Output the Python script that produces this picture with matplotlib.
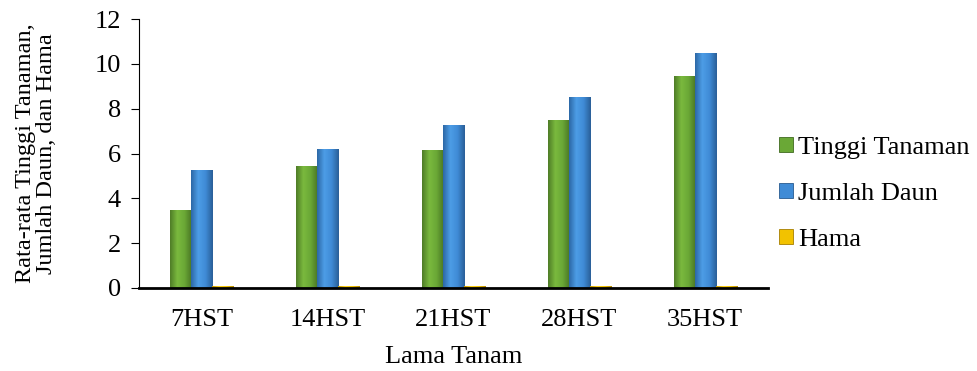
import numpy as np
import matplotlib.pyplot as plt
from matplotlib.colors import LinearSegmentedColormap

plt.rcParams['font.family'] = ['Liberation Serif', 'DejaVu Serif']

categories = ["7HST", "14HST", "21HST", "28HST", "35HST"]
tinggi = [3.5, 5.45, 6.15, 7.5, 9.45]
daun = [5.25, 6.2, 7.25, 8.5, 10.5]
hama = [0.08, 0.08, 0.08, 0.08, 0.08]

fig = plt.figure(figsize=(9.78, 3.71), dpi=100)
ax = fig.add_axes([139 / 978, 1 - 288 / 371, 629 / 978, 269 / 371])

x = np.arange(len(categories))
w = 0.167
series = [
    (tinggi, "Tinggi Tanaman", ["#4f7d27", "#7ab93e", "#6aa836", "#4a7524"], "#3f6a1f"),
    (daun, "Jumlah Daun", ["#2c68a6", "#4d9de6", "#3f8bd6", "#2a5f98"], "#275a90"),
    (hama, "Hama", ["#c99a00", "#ffd21a", "#f2c200", "#b88c00"], "#a67f00"),
]
grad = np.linspace(0, 1, 64).reshape(1, -1)
for i, (vals, lab, cols, edge) in enumerate(series):
    cmap = LinearSegmentedColormap.from_list(lab, cols)
    bars = ax.bar(x + (i - 1) * w, vals, width=w, color=cols[2],
                  edgecolor=edge, linewidth=0.6, label=lab, zorder=2)
    for b in bars:
        bx, by = b.get_x(), b.get_y()
        bw, bh = b.get_width(), b.get_height()
        im = ax.imshow(grad, cmap=cmap, aspect='auto', zorder=3,
                       extent=[bx, bx + bw, by, by + bh])
        im.set_clip_path(b)

ax.set_xlim(-0.5, len(categories) - 0.5)
ax.set_ylim(0, 12)
ax.set_yticks(range(0, 13, 2))
ax.set_xticks(x)
ax.set_xticklabels(categories)
ax.tick_params(axis='x', length=0, labelsize=19, pad=15)
ax.tick_params(axis='y', labelsize=19, direction='out', length=6, pad=7)
ax.spines['top'].set_visible(False)
ax.spines['right'].set_visible(False)
ax.spines['bottom'].set_linewidth(2)
ax.spines['bottom'].set_zorder(5)
ax.set_xlabel("Lama Tanam", fontsize=19, labelpad=11)
ax.set_ylabel("Rata-rata Tinggi Tanaman,\nJumlah Daun, dan Hama", fontsize=17.5,
              labelpad=27, linespacing=1.0)

ax.legend(loc='center left', bbox_to_anchor=(0.988, 0.35), frameon=False,
          fontsize=19, handlelength=0.52, handleheight=0.52, handletextpad=0.22,
          labelspacing=0.9, borderaxespad=0.3)

fig.savefig("out.png", dpi=100)
